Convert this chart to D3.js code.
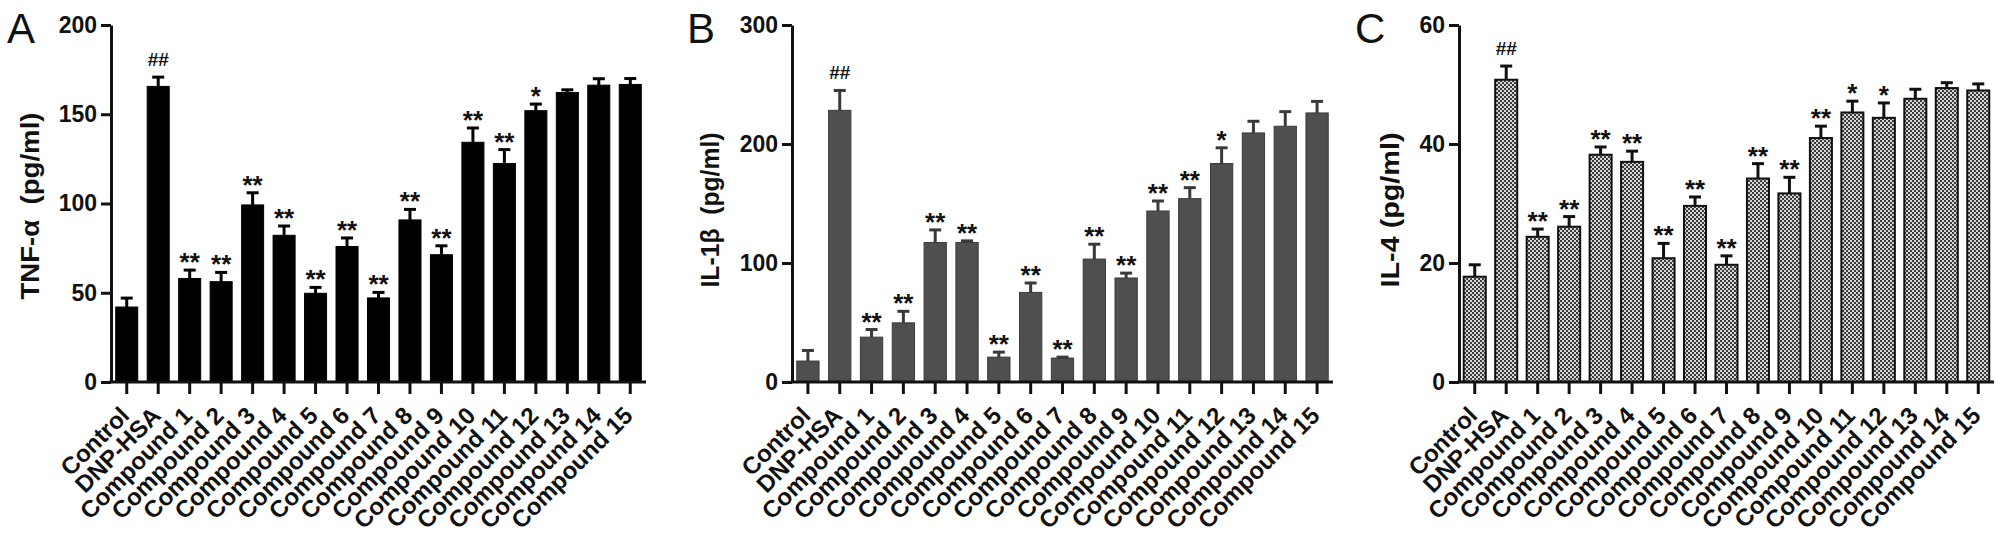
<!DOCTYPE html>
<html>
<head>
<meta charset="utf-8">
<script src="https://cdn.jsdelivr.net/npm/d3@7"></script>
<style>
  body { margin: 0; background: #fff; }
  svg { display: block; font-family: "Liberation Sans", Arial, sans-serif; }
</style>
</head>
<body>
<script>
const categories = ['Control', 'DNP-HSA', 'Compound 1', 'Compound 2', 'Compound 3', 'Compound 4',
  'Compound 5', 'Compound 6', 'Compound 7', 'Compound 8', 'Compound 9', 'Compound 10',
  'Compound 11', 'Compound 12', 'Compound 13', 'Compound 14', 'Compound 15'];

const tnfMean = [42, 165.6, 58, 56.2, 99.2, 82.2, 49.7, 75.9, 47.1, 90.8, 71.3, 134.3, 122.4, 152, 162.2, 166.3, 166.7];
const tnfErr = [5, 5.2, 4.7, 5.2, 6.8, 5.2, 3.3, 4.8, 3.1, 5.9, 5, 8, 7.8, 3.7, 1.5, 3.6, 3.3];
const tnfMarks = ['', '##', '**', '**', '**', '**', '**', '**', '**', '**', '**', '**', '**', '*', '', '', ''];
const tnfTicks = [0, 50, 100, 150, 200];

const il1bMean = [17.6, 228.3, 37.7, 49.7, 117.2, 117.2, 20.9, 75.3, 20.1, 103.3, 87.4, 143.7, 154.1, 183.6, 209.3, 214.9, 226.1];
const il1bErr = [8.9, 16.7, 6.4, 9.7, 10.6, 1.4, 4.2, 7.9, 0.8, 12.5, 4.1, 8.4, 9.2, 13.2, 9.8, 12.3, 9.7];
const il1bMarks = ['', '##', '**', '**', '**', '**', '**', '**', '**', '**', '**', '**', '**', '*', '', '', ''];
const il1bTicks = [0, 100, 200, 300];

const il4Mean = [17.7, 50.8, 24.4, 26.1, 38.2, 37.0, 20.8, 29.6, 19.7, 34.2, 31.7, 41.0, 45.3, 44.4, 47.6, 49.4, 49.0];
const il4Err = [2.0, 2.3, 1.3, 1.7, 1.3, 1.8, 2.5, 1.5, 1.5, 2.5, 2.7, 2.0, 1.9, 2.5, 1.6, 0.9, 1.1];
const il4Marks = ['', '##', '**', '**', '**', '**', '**', '**', '**', '**', '**', '**', '*', '*', '', '', ''];
const il4Ticks = [0, 20, 40, 60];

const svg = d3.select('body').append('svg')
  .attr('width', 2008)
  .attr('height', 559);

// checker pattern for panel C
const pat = svg.append('defs').append('pattern')
  .attr('id', 'checker')
  .attr('patternUnits', 'userSpaceOnUse')
  .attr('width', 4).attr('height', 4);
pat.append('rect').attr('width', 4).attr('height', 4).attr('fill', '#d4d4d4');
pat.append('rect').attr('width', 2).attr('height', 2).attr('fill', '#3c3c3c');
pat.append('rect').attr('x', 2).attr('y', 2).attr('width', 2).attr('height', 2).attr('fill', '#3c3c3c');

const y0 = 382, yTop = 25;

const drawPanel = (p) => {
  const g = svg.append('g');

  let x = d3.scaleBand()
    .domain(categories)
    .range([p.left, p.right])
    .paddingInner(0.3)
    .paddingOuter(0.15);

  let y = d3.scaleLinear()
    .domain([0, p.max])
    .range([y0, yTop]);

  // bars
  g.selectAll('rect.bar')
    .data(p.mean)
    .enter()
    .append('rect')
    .attr('class', 'bar')
    .attr('x', (d, i) => x(categories[i]))
    .attr('y', (d) => y(d))
    .attr('width', x.bandwidth())
    .attr('height', (d) => y0 - y(d))
    .attr('fill', p.fill)
    .attr('stroke', p.stroke)
    .attr('stroke-width', p.strokeW);

  // error bars (upper only)
  const cx = (i) => x(categories[i]) + x.bandwidth() / 2;
  g.selectAll('line.err')
    .data(p.mean)
    .enter()
    .append('line')
    .attr('x1', (d, i) => cx(i))
    .attr('x2', (d, i) => cx(i))
    .attr('y1', (d) => y(d))
    .attr('y2', (d, i) => y(d + p.err[i]))
    .attr('stroke', p.errColor)
    .attr('stroke-width', 3);
  g.selectAll('line.cap')
    .data(p.mean)
    .enter()
    .append('line')
    .attr('x1', (d, i) => cx(i) - 6)
    .attr('x2', (d, i) => cx(i) + 6)
    .attr('y1', (d, i) => y(d + p.err[i]))
    .attr('y2', (d, i) => y(d + p.err[i]))
    .attr('stroke', p.errColor)
    .attr('stroke-width', 3);

  // significance marks
  g.selectAll('text.mark')
    .data(p.marks)
    .enter()
    .append('text')
    .attr('x', (d, i) => cx(i))
    .attr('y', (d, i) => d === '##' ? y(p.mean[i] + p.err[i]) - 11 : y(p.mean[i] + p.err[i]) + 1)
    .attr('text-anchor', 'middle')
    .attr('font-weight', 'bold')
    .attr('font-size', (d) => d === '##' ? 19 : 26)
    .attr('fill', '#111')
    .text((d) => d);

  // y axis
  let yAxis = g.append('g')
    .attr('transform', `translate(${p.left},0)`)
    .call(d3.axisLeft(y).tickValues(p.ticks).tickSize(10).tickSizeOuter(0).tickPadding(4));
  yAxis.select('.domain').attr('stroke', '#111').attr('stroke-width', 3);
  yAxis.selectAll('.tick line').attr('stroke', '#111').attr('stroke-width', 3);
  yAxis.selectAll('.tick text')
    .attr('font-size', 23)
    .attr('font-weight', 'bold')
    .attr('font-family', '"Liberation Sans", Arial, sans-serif')
    .attr('fill', '#111');

  // x axis
  let xAxis = g.append('g')
    .attr('transform', `translate(0,${y0})`)
    .call(d3.axisBottom(x).tickSize(12).tickSizeOuter(0));
  xAxis.select('.domain').remove();
  xAxis.selectAll('.tick line').attr('stroke', '#111').attr('stroke-width', 3);
  xAxis.selectAll('.tick text').remove();
  g.append('line')
    .attr('x1', p.left - 1.5).attr('x2', p.axisEnd)
    .attr('y1', y0).attr('y2', y0)
    .attr('stroke', '#111').attr('stroke-width', 3);

  g.selectAll('text.xlab')
    .data(categories)
    .enter()
    .append('text')
    .attr('transform', (d) => `translate(${x(d) + x.bandwidth() / 2 + 4},417) rotate(-45)`)
    .attr('text-anchor', 'end')
    .attr('font-size', 24)
    .attr('font-weight', 'bold')
    .attr('fill', '#111')
    .text((d) => d);

  // y title
  g.append('text')
    .attr('transform', `translate(${p.titleX},${p.titleY}) rotate(-90)`)
    .attr('text-anchor', 'middle')
    .attr('font-size', 26)
    .attr('font-weight', 'bold')
    .attr('fill', '#111')
    .attr('textLength', p.titleLen)
    .attr('lengthAdjust', 'spacingAndGlyphs')
    .text(p.title);

  // panel letter
  g.append('text')
    .attr('x', p.letterX)
    .attr('y', 43)
    .attr('font-size', 42)
    .attr('fill', '#111')
    .text(p.letter);
};

drawPanel({
  left: 111, right: 646, axisEnd: 646, max: 200, ticks: tnfTicks,
  mean: tnfMean, err: tnfErr, marks: tnfMarks,
  fill: '#000', stroke: '#000', strokeW: 1, errColor: '#000',
  title: 'TNF-α\u00a0\u00a0(pg/ml)', titleX: 39, titleY: 206, titleLen: 187,
  letter: 'A', letterX: 7
});

drawPanel({
  left: 792, right: 1333, axisEnd: 1333, max: 300, ticks: il1bTicks,
  mean: il1bMean, err: il1bErr, marks: il1bMarks,
  fill: '#4f4f4f', stroke: '#3a3a3a', strokeW: 1, errColor: '#3a3a3a',
  title: 'IL-1β\u00a0\u00a0(pg/ml)', titleX: 719, titleY: 210, titleLen: 155,
  letter: 'B', letterX: 687
});

drawPanel({
  left: 1459, right: 1994, axisEnd: 1994, max: 60, ticks: il4Ticks,
  mean: il4Mean, err: il4Err, marks: il4Marks,
  fill: 'url(#checker)', stroke: '#111', strokeW: 2, errColor: '#111',
  title: 'IL-4 (pg/ml)', titleX: 1399, titleY: 210, titleLen: 155,
  letter: 'C', letterX: 1355
});
</script>
</body>
</html>
